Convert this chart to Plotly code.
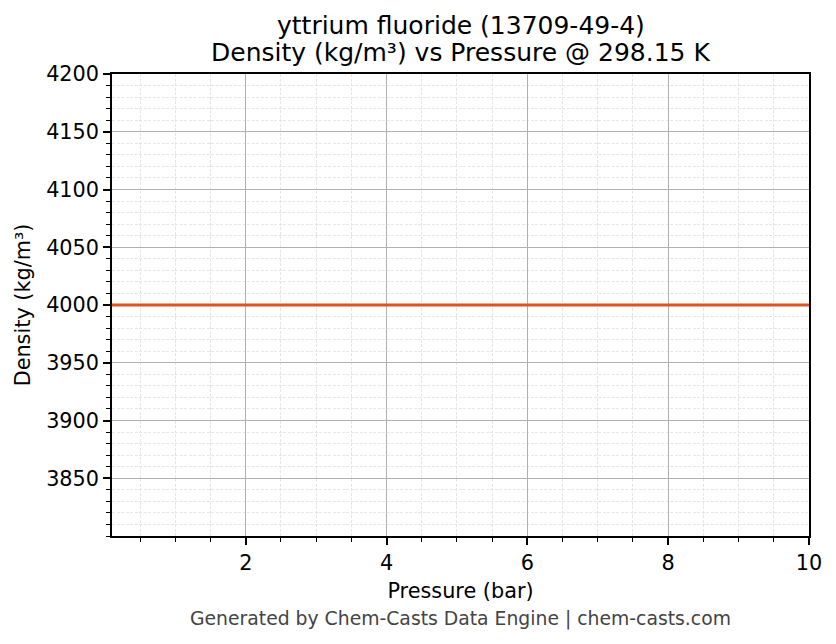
import plotly.graph_objects as go

pressure_bar = [0.1, 1.0, 2.0, 3.0, 4.0, 5.0, 6.0, 7.0, 8.0, 9.0, 10.0]
density_kgm3 = [4000, 4000, 4000, 4000, 4000, 4000, 4000, 4000, 4000, 4000, 4000]
x_ticks = [2, 4, 6, 8, 10]
y_ticks = [3850, 3900, 3950, 4000, 4050, 4100, 4150, 4200]

FONT = "DejaVu Sans"

fig = go.Figure()
fig.add_trace(go.Scatter(
    x=pressure_bar, y=density_kgm3, mode="lines",
    line=dict(color="#DC5424", width=3.2), showlegend=False,
))

axis_common = dict(
    showline=True, linecolor="black", linewidth=1.5, mirror=True,
    ticks="outside", ticklen=7, tickwidth=1.5, tickcolor="black",
    showgrid=True, gridcolor="#b0b0b0", gridwidth=0.9,
    zeroline=False,
    tickfont=dict(family=FONT, size=20.8, color="black"),
)

minor_common = dict(ticks="outside", ticklen=4, tickwidth=1.1, tickcolor="black",
                    showgrid=True, gridcolor="#e6e6e6", griddash="3px,1.5px", gridwidth=0.7)

fig.update_xaxes(
    range=[0.1, 10], tickvals=x_ticks,
    title=dict(text="Pressure (bar)", font=dict(family=FONT, size=20.8, color="black"), standoff=10),
    minor=dict(dtick=0.5, tick0=0, **minor_common),
    **axis_common,
)
fig.update_yaxes(
    range=[3800, 4200], tickvals=y_ticks,
    title=dict(text="Density (kg/m³)", font=dict(family=FONT, size=20.8, color="black"), standoff=10),
    minor=dict(dtick=10, tick0=0, **minor_common),
    **axis_common,
)

fig.update_layout(
    width=828, height=636,
    margin=dict(l=104, r=27, t=66, b=108),
    paper_bgcolor="white", plot_bgcolor="white",
    annotations=[
        dict(text="yttrium fluoride (13709-49-4)", xref="paper", yref="paper",
             x=0.5, y=1.106, xanchor="center", yanchor="middle", showarrow=False,
             font=dict(family=FONT, size=25, color="black")),
        dict(text="Density (kg/m³) vs Pressure @ 298.15 K", xref="paper", yref="paper",
             x=0.5, y=1.046, xanchor="center", yanchor="middle", showarrow=False,
             font=dict(family=FONT, size=25, color="black")),
        dict(text="Generated by Chem-Casts Data Engine | chem-casts.com",
             xref="paper", yref="paper", x=0.5, y=-0.1797, xanchor="center", yanchor="middle",
             showarrow=False, font=dict(family=FONT, size=18.8, color="#444444")),
    ],
)

fig.write_html("out.html")
